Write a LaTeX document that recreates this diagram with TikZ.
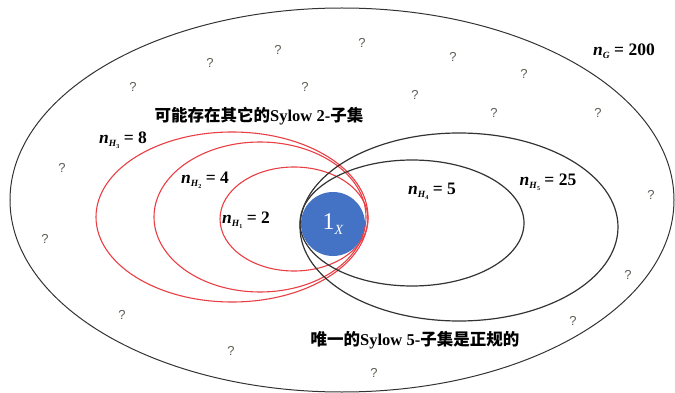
\documentclass[tikz,border=0pt]{standalone}
\usepackage{fontspec}
\setmainfont{Liberation Serif}
\newfontfamily\cjk{Noto Sans CJK SC}
\newfontfamily\qfont{Liberation Sans}
\usepackage{tikz}

% n with a two-level subscript, as in n_{H_3}
\newcommand{\nsub}[2]{\textit{n}\raisebox{-0.45ex}{\fontsize{9.5}{9.5}\selectfont\textit{#1}\raisebox{-0.35ex}{\fontsize{6}{6}\selectfont #2}}}

\begin{document}
\begin{tikzpicture}[
    x=1pt, y=-1pt,
    every node/.style={font=\fontsize{17.5}{19}\selectfont\bfseries, inner sep=1pt},
    outerset/.style={draw=black!80, line width=1pt},
    twoset/.style={draw={rgb,255:red,232;green,62;blue,68}, line width=1.1pt},
    fiveset/.style={draw=black!80, line width=1.2pt},
    idset/.style={fill={rgb,255:red,68;green,114;blue,196}, draw=none},
    qmark/.style={font=\qfont\fontsize{13}{13}\selectfont, text={rgb,255:red,95;green,95;blue,85}},
    cnote/.style={font=\fontsize{16.5}{18}\selectfont\bfseries},
]
\useasboundingbox (0,0) rectangle (675,393);

% ---- Whole group ----
\draw[outerset] (342,200) ellipse [x radius=332pt, y radius=192pt];
\node (nG) at (624,52) {\nsub{G}{} = 200};

% ---- Identity ----
\fill[idset] (333,224) circle [radius=32pt];
\node[font=\fontsize{24}{24}\selectfont, text=white] (one) at (333,224) {1\raisebox{-0.5ex}{\fontsize{14}{14}\selectfont\textit{X}}};

% ---- Sylow 2-subgroups ----
\draw[twoset] (232,217) ellipse [x radius=136pt, y radius=85pt];
\draw[twoset] (260,217) ellipse [x radius=106pt, y radius=75pt];
\draw[twoset] (294,219) ellipse [x radius=74pt, y radius=52pt];
\node (nH3) at (123,140) {\nsub{H}{3} = 8};
\node (nH2) at (205,180) {\nsub{H}{2} = 4};
\node (nH1) at (246,220) {\nsub{H}{1} = 2};
\node[cnote] (twonote) at (259,116) {{\cjk 可能存在其它的}Sylow 2-{\cjk 子集}};

% ---- Sylow 5-subgroups ----
\draw[fiveset] (412,223) ellipse [x radius=112pt, y radius=63pt];
\draw[fiveset] (459,227) ellipse [x radius=159pt, y radius=94pt];
\node (nH4) at (432,191) {\nsub{H}{4} = 5};
\node (nH5) at (548,182) {\nsub{H}{5} = 25};
\node[cnote] (fivenote) at (415,340) {{\cjk 唯一的}Sylow 5-{\cjk 子集是正规的}};

% ---- Unknown elements ----
\foreach \x/\y [count=\i] in {278/50, 362/43, 210/63, 133/87, 305/87, 453/57, 524/74,
    415/95, 494/113, 598/113, 62/168, 651/195, 45/239, 628/275, 573/321,
    122/315, 231/351, 374/373}
  \node[qmark] (q\i) at (\x,\y) {?};

\end{tikzpicture}
\end{document}
